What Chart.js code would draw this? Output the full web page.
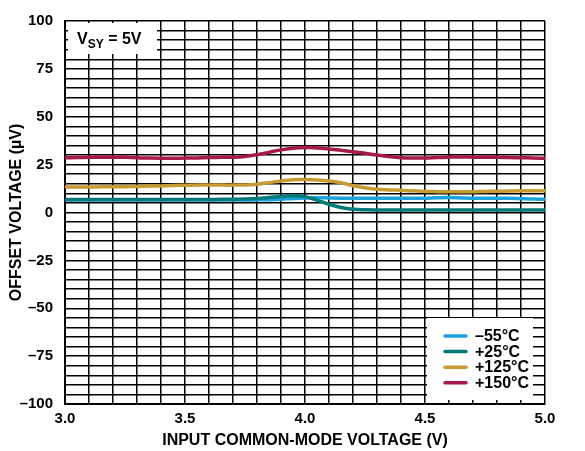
<!DOCTYPE html>
<html>
<head>
<meta charset="utf-8">
<title>Offset Voltage vs Input Common-Mode Voltage</title>
<script src="https://cdn.jsdelivr.net/npm/chart.js@4/dist/chart.umd.min.js"></script>
<style>
  html, body { margin: 0; padding: 0; background: #fff; }
  #wrap { width: 585px; height: 451px; }
</style>
</head>
<body>
<div id="wrap"><canvas id="chart" width="585" height="451"></canvas></div>
<script>
// ----- Data (V, µV) -----
const voltages = [
  3.00, 3.05, 3.10, 3.15, 3.20, 3.25, 3.30, 3.35, 3.40, 3.45,
  3.50, 3.55, 3.60, 3.65, 3.70, 3.75, 3.80, 3.85, 3.90, 3.95,
  4.00, 4.05, 4.10, 4.15, 4.20, 4.25, 4.30, 4.35, 4.40, 4.45,
  4.50, 4.55, 4.60, 4.65, 4.70, 4.75, 4.80, 4.85, 4.90, 4.95, 5.00
];
const minus55 = [
  6.5, 6.5, 6.5, 6.5, 6.5, 6.5, 6.5, 6.5, 6.5, 6.5,
  6.5, 6.5, 6.5, 6.5, 6.5, 6.5, 6.6, 6.7, 6.9, 7.3,
  7.6, 7.7, 7.6, 7.5, 7.5, 7.5, 7.5, 7.5, 7.5, 7.5,
  7.5, 7.7, 7.8, 7.6, 7.4, 7.4, 7.5, 7.4, 7.2, 7.0, 6.9
];
const plus25 = [
  6.8, 6.8, 6.8, 6.8, 6.8, 6.8, 6.8, 6.8, 6.8, 6.8,
  6.8, 6.8, 6.8, 6.9, 6.9, 7.0, 7.3, 7.8, 8.4, 8.7,
  8.3, 6.5, 4.3, 2.6, 1.7, 1.4, 1.3, 1.3, 1.3, 1.3,
  1.3, 1.3, 1.3, 1.3, 1.3, 1.3, 1.3, 1.3, 1.3, 1.3, 1.3
];
const plus125 = [
  13.3, 13.3, 13.3, 13.4, 13.4, 13.5, 13.6, 13.8, 13.9, 14.1,
  14.2, 14.3, 14.3, 14.3, 14.3, 14.4, 14.8, 15.6, 16.5, 17.1,
  17.2, 17.0, 16.5, 15.5, 14.0, 12.9, 12.1, 11.8, 11.6, 11.3,
  11.0, 10.9, 10.9, 10.9, 10.9, 11.0, 11.1, 11.2, 11.3, 11.3, 11.3
];
const plus150 = [
  28.6, 28.7, 28.8, 28.9, 28.9, 28.8, 28.6, 28.4, 28.3, 28.3,
  28.4, 28.5, 28.7, 28.8, 28.9, 29.3, 30.2, 31.4, 32.7, 33.5,
  33.9, 33.7, 33.2, 32.5, 31.7, 30.9, 30.0, 29.2, 28.6, 28.4,
  28.5, 28.7, 28.9, 29.0, 28.9, 28.8, 28.8, 28.7, 28.6, 28.5, 28.3
];
const seriesLabels = ["\u201355\u00B0C", "+25\u00B0C", "+125\u00B0C", "+150\u00B0C"];
const seriesColors = ["#1ca3dc", "#007b7a", "#c69b33", "#a6194d"];
const seriesValues = [minus55, plus25, plus125, plus150];
const drawOrder = [1, 0, 2, 3]; // +25 sits on top of -55

const FONT = "'Liberation Sans', Arial, sans-serif";

// ----- Inset boxes: supply label and legend -----
const insetPlugin = {
  id: "insets",
  afterDatasetsDraw(chart) {
    const { ctx, chartArea: a } = chart;
    ctx.save();

    // V_SY = 5V label box
    ctx.fillStyle = "#fff";
    ctx.fillRect(a.left + 3, a.top + 2, 89, 31);
    ctx.fillStyle = "#000";
    ctx.textBaseline = "alphabetic";
    ctx.textAlign = "left";
    ctx.font = "bold 16px " + FONT;
    let x = a.left + 12;
    ctx.fillText("V", x, a.top + 23);
    x += ctx.measureText("V").width;
    ctx.font = "bold 12px " + FONT;
    ctx.fillText("SY", x, a.top + 26.5);
    x += ctx.measureText("SY").width;
    ctx.font = "bold 16px " + FONT;
    ctx.fillText(" = 5V", x, a.top + 23);

    // legend box
    const lx = a.right - 118, ly = a.bottom - 86;
    ctx.fillStyle = "#fff";
    ctx.fillRect(lx, ly, 106, 82);
    ctx.font = "bold 16px " + FONT;
    ctx.textBaseline = "middle";
    seriesLabels.forEach((lab, i) => {
      const yy = ly + 18 + i * 15.6;
      ctx.strokeStyle = seriesColors[i];
      ctx.lineWidth = 3.5;
      ctx.lineCap = "round";
      ctx.beginPath();
      ctx.moveTo(lx + 18, yy);
      ctx.lineTo(lx + 39, yy);
      ctx.stroke();
      ctx.fillStyle = "#000";
      ctx.fillText(lab, lx + 48, yy + 0.5);
    });
    ctx.restore();
  }
};

const datasets = seriesValues.map((vals, i) => ({
  label: seriesLabels[i],
  data: voltages.map((v, k) => ({ x: v, y: vals[k] })),
  borderColor: seriesColors[i],
  backgroundColor: seriesColors[i],
  borderWidth: 3.5,
  pointRadius: 0,
  tension: 0.4,
  fill: false,
  order: drawOrder[i]
}));

const gridStyle = { color: "#000", lineWidth: 1.5, drawTicks: false };

new Chart(document.getElementById("chart"), {
  type: "line",
  data: { datasets },
  options: {
    responsive: false,
    animation: false,
    layout: { padding: { top: 19, right: 40, left: 0, bottom: 0 } },
    plugins: { legend: { display: false }, tooltip: { enabled: false } },
    scales: {
      x: {
        type: "linear",
        min: 3, max: 5,
        grid: gridStyle,
        border: { display: true, color: "#000", width: 2 },
        ticks: {
          stepSize: 0.1,
          autoSkip: false,
          maxRotation: 0,
          padding: 6,
          color: "#000",
          font: { family: FONT, size: 15, weight: "bold" },
          callback: v => Math.abs(v * 2 - Math.round(v * 2)) < 1e-6 ? v.toFixed(1) : ""
        },
        title: {
          display: true,
          text: "INPUT COMMON-MODE VOLTAGE (V)",
          color: "#000",
          font: { family: FONT, size: 16, weight: "bold" },
          padding: { top: 0, bottom: 1 }
        },
        afterFit: s => { s.height = 47; }
      },
      y: {
        min: -100, max: 100,
        grid: gridStyle,
        border: { display: true, color: "#000", width: 2 },
        ticks: {
          stepSize: 5,
          autoSkip: false,
          padding: 12,
          color: "#000",
          font: { family: FONT, size: 15, weight: "bold" },
          callback: v => (Math.round(v) % 25 === 0 ? String(Math.round(v)).replace("-", "\u2013") : "")
        },
        title: {
          display: true,
          text: "OFFSET VOLTAGE (\u00B5V)",
          color: "#000",
          font: { family: FONT, size: 16, weight: "bold" },
          padding: { top: 7, bottom: 0 }
        },
        afterFit: s => { s.width = 65; }
      }
    }
  },
  plugins: [insetPlugin]
});
</script>
</body>
</html>
